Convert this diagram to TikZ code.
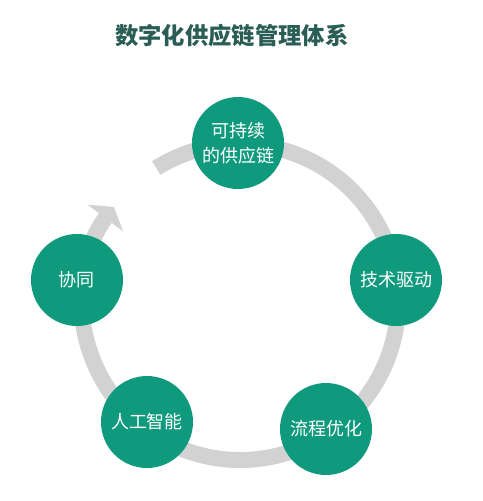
\documentclass[tikz,border=0pt]{standalone}
\usepackage{fontspec}
\setmainfont{Noto Sans CJK SC}
\usetikzlibrary{arrows.meta}
\definecolor{tealfill}{HTML}{0F9A7D}
\definecolor{titlecol}{HTML}{2A5D55}
\definecolor{ringgray}{HTML}{D2D2D2}
\tikzset{
  stage/.style={circle,fill=tealfill,minimum size=92*0.75pt,inner sep=0pt,
    text=white,font=\fontsize{13.5}{19}\selectfont,align=center},
  ring/.style={ringgray,line width=16*0.75pt}
}

\begin{document}
\begin{tikzpicture}[x=0.75pt,y=-0.75pt,>=Latex]
  \useasboundingbox (0,0) rectangle (483,501);
  % title
  \node[text=titlecol,font=\fontsize{17.5}{20}\selectfont\bfseries] (title) at (232,36) {数字化供应链管理体系};
  % cycle ring with arrow (y axis points down, so angles run clockwise)
  \coordinate (c) at (240,302);
  \draw[ring,-{Triangle[width=44*0.75pt,length=14*0.75pt]}]
    (c) ++(-122:158) arc[start angle=-122,end angle=217,radius=158];
  % stages
  \node[stage] (sustain) at (238,143) {可持续\\的供应链};
  \node[stage] (tech) at (396,280) {技术驱动};
  \node[stage] (flow) at (326,429) {流程优化};
  \node[stage] (ai) at (147,422) {人工智能};
  \node[stage] (coop) at (77,280) {协同};
\end{tikzpicture}
\end{document}
